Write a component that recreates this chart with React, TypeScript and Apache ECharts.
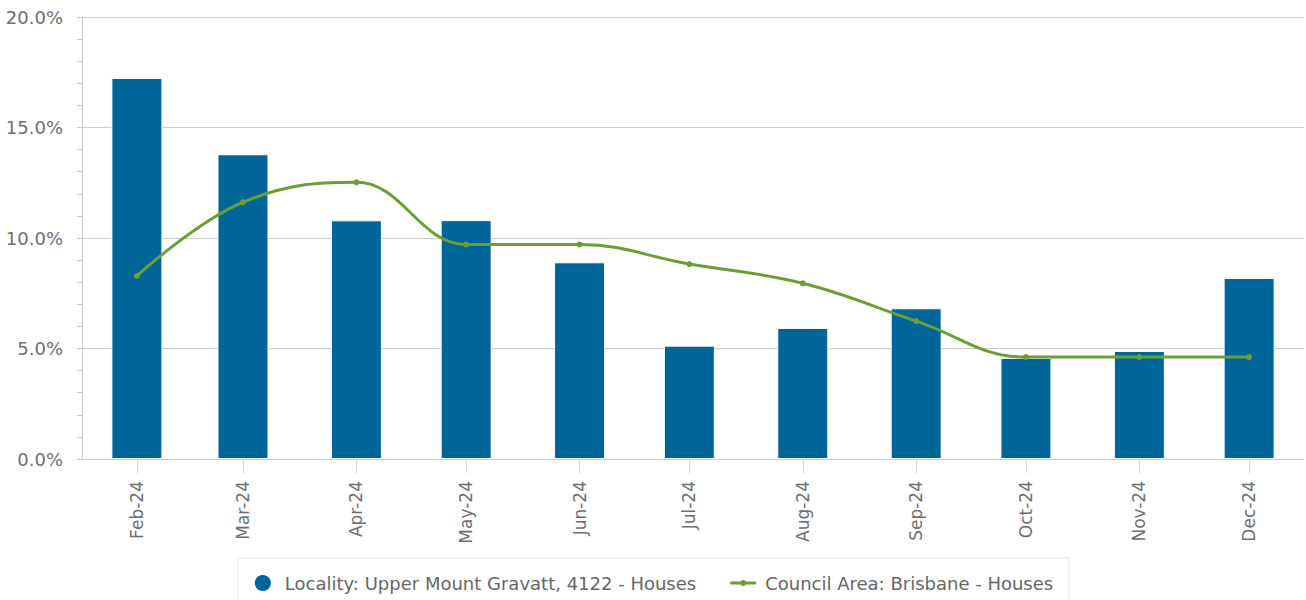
import React, { useEffect, useRef } from "react";
import * as echarts from "echarts";

const months = [
  "2024-02-01", "2024-03-01", "2024-04-01", "2024-05-01", "2024-06-01", "2024-07-01",
  "2024-08-01", "2024-09-01", "2024-10-01", "2024-11-01", "2024-12-01",
];
const localityValues = [17.24, 13.79, 10.8, 10.81, 8.9, 5.13, 5.93, 6.82, 4.57, 4.89, 8.19];
const councilValues = [8.29, 11.62, 12.52, 9.71, 9.71, 8.82, 7.95, 6.24, 4.61, 4.61, 4.61];
const seriesNames = ["Locality: Upper Mount Gravatt, 4122 - Houses", "Council Area: Brisbane - Houses"];
const monthNames = ["Jan", "Feb", "Mar", "Apr", "May", "Jun", "Jul", "Aug", "Sep", "Oct", "Nov", "Dec"];

const DAY = 86400000;
const FONT = "DejaVu Sans";
const LINE_ICON = "path://M0 1.5H26V4.5H0Z M16 3A3 3 0 1 1 10 3A3 3 0 1 1 16 3Z";

export default function App() {
  const ref = useRef<HTMLDivElement>(null);
  useEffect(() => {
    document.body.style.margin = "0";
    const chart = echarts.init(ref.current!, null, { renderer: "svg" });
    const base = Date.parse(months[0] + "T00:00:00Z");
    // x positions as day offsets from the first month (keeps true calendar spacing)
    const days = months.map((m) => Math.round((Date.parse(m + "T00:00:00Z") - base) / DAY));
    const labelFor = (v: number) => {
      const d = new Date(base + v * DAY);
      return monthNames[d.getUTCMonth()] + "-" + String(d.getUTCFullYear()).slice(2);
    };
    const option: any = {
      animation: false,
      textStyle: { fontFamily: FONT },
      grid: { left: 82, right: 2, top: 17, bottom: 141, containLabel: false },
      legend: {
        left: "center",
        top: 558,
        orient: "horizontal",
        padding: [15, 16, 15, 15],
        itemGap: 34,
        itemWidth: 26,
        itemHeight: 18,
        borderColor: "#e6e6e6",
        borderWidth: 1,
        backgroundColor: "#ffffff",
        textStyle: { color: "#666666", fontSize: 18, fontFamily: FONT, padding: [0, 0, 0, 4] },
        data: [
          { name: seriesNames[0], icon: "circle" },
          { name: seriesNames[1], icon: LINE_ICON },
        ],
      },
      xAxis: {
        type: "value",
        min: days[0] - 15,
        max: days[days.length - 1] + 15,
        axisLine: { show: true, onZero: false, lineStyle: { color: "#cccccc", width: 1 } },
        axisTick: {
          show: true,
          length: 14,
          customValues: days,
          lineStyle: { color: "#ccd6eb", width: 1 },
        },
        axisLabel: {
          customValues: days,
          rotate: 90,
          margin: 22,
          color: "#6e6e6e",
          fontSize: 17,
          fontFamily: FONT,
          formatter: labelFor,
        },
        splitLine: { show: false },
      },
      yAxis: {
        type: "value",
        min: 0,
        max: 20,
        interval: 5,
        axisLine: { show: true, onZero: false, lineStyle: { color: "#cccccc", width: 1 } },
        axisTick: { show: true, length: 5, lineStyle: { color: "#cccccc" } },
        minorTick: { show: true, splitNumber: 5, length: 5, lineStyle: { color: "#cccccc" } },
        axisLabel: {
          margin: 19,
          color: "#6e6e6e",
          fontSize: 18,
          fontFamily: FONT,
          formatter: (v: number) => v.toFixed(1) + "%",
        },
        splitLine: { show: true, lineStyle: { color: "#cccccc", width: 1 } },
      },
      series: [
        {
          name: seriesNames[0],
          type: "bar",
          barWidth: 51,
          itemStyle: { color: "#006699", borderColor: "#ffffff", borderWidth: 1 },
          data: days.map((d, i) => [d, localityValues[i]]),
          z: 2,
        },
        {
          name: seriesNames[1],
          type: "line",
          smooth: 0.4,
          symbol: "circle",
          symbolSize: 6,
          lineStyle: { color: "#6c9e35", width: 3 },
          itemStyle: { color: "#6c9e35" },
          data: days.map((d, i) => [d, councilValues[i]]),
          z: 3,
        },
      ],
    };
    chart.setOption(option);
    return () => chart.dispose();
  }, []);
  return <div ref={ref} style={{ width: 1306, height: 600 }} />;
}
